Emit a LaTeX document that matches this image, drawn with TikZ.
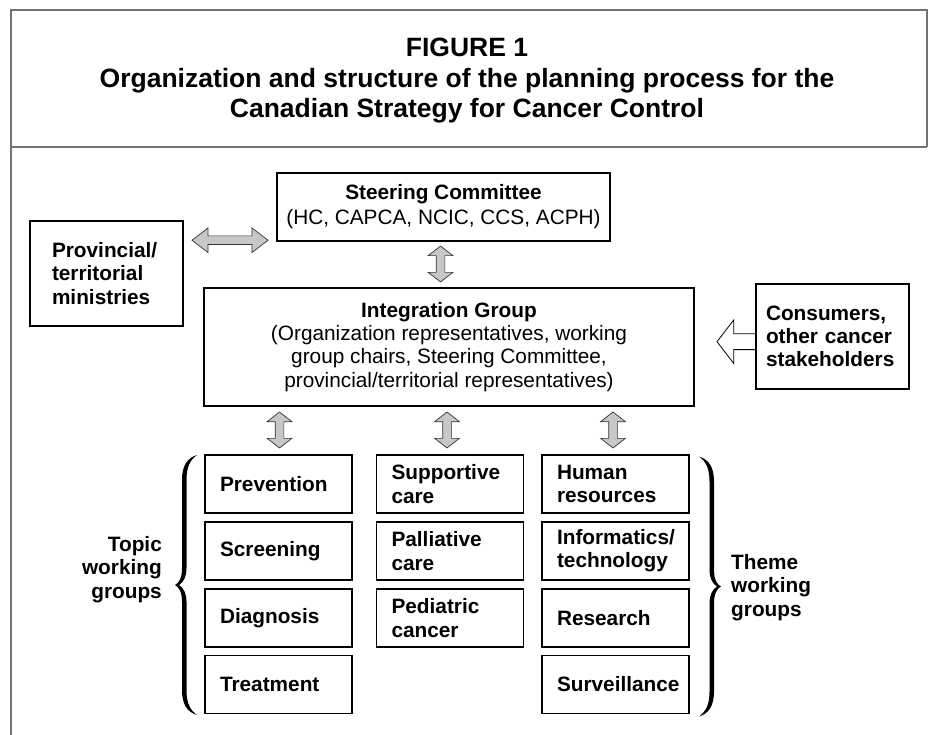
\documentclass[tikz,border=0pt]{standalone}
\usepackage{fontspec}
\setmainfont{Liberation Sans}
\usetikzlibrary{shapes.arrows,calc}
\newcommand\titlefont{\fontsize{26.5}{30.5}\selectfont\bfseries}
\newcommand\bodyfont{\fontsize{20.8}{23.2}\selectfont}
\newcommand\boldbody{\fontsize{20.8}{23.2}\selectfont\bfseries}
\begin{document}
\begin{tikzpicture}[x=1pt,y=-1pt,
  frameline/.style={draw=black!55, line width=2pt},
  box/.style={draw=black, line width=1.3pt, fill=white, inner ysep=0pt, outer sep=0pt},
  grp/.style={box, minimum height=58pt, inner xsep=15pt, text width=117pt, align=left, font=\boldbody},
  sidebox/.style={box, minimum height=105pt, align=left, font=\boldbody},
  twoway/.style={double arrow, draw=black!80, line width=0.7pt, fill=black!22,
    double arrow head extend=8pt, inner xsep=0pt, inner ysep=4pt, outer sep=0pt},
  hollow/.style={single arrow, draw=black, line width=0.8pt, fill=white,
    single arrow head extend=14pt, single arrow tip angle=105,
    minimum height=39pt, inner xsep=0pt, inner ysep=7.5pt, outer sep=0pt},
  lbl/.style={inner sep=0pt, font=\boldbody},
  % tapered curly brace, tip at the origin, opening towards +x
  curlybrace/.pic={
    \fill[black]
      (22,-130) .. controls (12,-127) and (7,-119) .. (7,-105)
      -- (7,-17) .. controls (7,-7) and (4,-2) .. (0,0)
      .. controls (4,2) and (7,7) .. (7,17)
      -- (7,105) .. controls (7,119) and (12,127) .. (22,130)
      .. controls (15,125) and (11.5,118) .. (11.5,105)
      -- (11.5,17) .. controls (11.5,9) and (9,3) .. (4,0)
      .. controls (9,-3) and (11.5,-9) .. (11.5,-17)
      -- (11.5,-105) .. controls (11.5,-118) and (15,-125) .. (22,-130) -- cycle;
  }
]
\useasboundingbox (0,0) rectangle (928,735);

% outer frame and title panel
\draw[frameline] (11,735) -- (11,10) -- (927,10) -- (927,146.7);
\draw[frameline] (11,146.7) -- (927,146.7);
\node[inner sep=0pt, align=center, font=\titlefont, anchor=base] (title) at (467,118)
  {FIGURE 1\\Organization and structure of the planning process for the\\Canadian Strategy for Cancer Control};

% upper level
\node[box, minimum width=333pt, minimum height=68pt, align=center, font=\bodyfont]
  (steer) at (443.5,207) {\textbf{Steering Committee}\\[2pt](HC, CAPCA, NCIC, CCS, ACPH)};
\node[sidebox, minimum width=153pt, inner xsep=22pt, text width=109pt]
  (prov) at (106.5,273.5) {Provincial/\\territorial\\ministries};
\node[box, minimum width=490pt, minimum height=118pt, align=center, font=\bodyfont]
  (integ) at (449,347) {\textbf{Integration Group}\\(Organization representatives, working\\group chairs, Steering Committee,\\provincial/territorial representatives)};
\node[sidebox, minimum width=153pt, inner xsep=10pt, text width=133pt]
  (cons) at (832.5,336.5) {Consumers,\\other cancer\\stakeholders};

% topic working groups
\node[grp, minimum width=147pt] (prev)  at (278.5,484)   {Prevention};
\node[grp, minimum width=147pt] (scr)   at (278.5,551)   {Screening};
\node[grp, minimum width=147pt] (diag)  at (278.5,618)   {Diagnosis};
\node[grp, minimum width=147pt] (treat) at (278.5,684.5) {Treatment};

% care working groups
\node[grp, minimum width=146pt] (supp)  at (450,484) {Supportive\\care};
\node[grp, minimum width=146pt] (pall)  at (450,551) {Palliative\\care};
\node[grp, minimum width=146pt] (pedi)  at (450,618) {Pediatric\\cancer};

% theme working groups
\node[grp, minimum width=147pt] (hum)   at (615.5,484)   {Human\\resources};
\node[grp, minimum width=147pt] (info)  at (615.5,551)   {Informatics/\\technology};
\node[grp, minimum width=147pt] (res)   at (615.5,618)   {Research};
\node[grp, minimum width=147pt] (surv)  at (615.5,684.5) {Surveillance};

% two-way links
\node[twoway, minimum height=76pt, double arrow tip angle=75] (lnkps)
  at ($(prov.east)!0.5!(steer.west)$) {};
\node[twoway, minimum height=36pt, double arrow tip angle=104, rotate=90] (lnksi) at (440.5,264) {};
\coordinate (armrow) at (0,430);
\node[twoway, minimum height=36pt, double arrow tip angle=104, rotate=90] (lnkt)
  at ([xshift=1pt]prev.north |- armrow) {};
\node[twoway, minimum height=36pt, double arrow tip angle=104, rotate=90] (lnkc)
  at ([xshift=-3pt]supp.north |- armrow) {};
\node[twoway, minimum height=36pt, double arrow tip angle=104, rotate=90] (lnkh)
  at ([xshift=-2.5pt]hum.north |- armrow) {};

% input from consumers
\coordinate (feedrow) at (0,341.7);
\node[hollow, rotate=180, anchor=tail] (feed) at (cons.west |- feedrow) {};
\draw[line width=1.3pt] (cons.north west) -- (cons.south west);

% group braces and labels
\pic (tbrace) at (175,585) {curlybrace};
\pic[xscale=-1] (hbrace) at (721,586.5) {curlybrace};
\node[lbl, align=right, anchor=base east] (topic) at (162,598) {Topic\\working\\groups};
\node[lbl, align=left, anchor=base west] (theme) at (731,616) {Theme\\working\\groups};
\end{tikzpicture}
\end{document}
